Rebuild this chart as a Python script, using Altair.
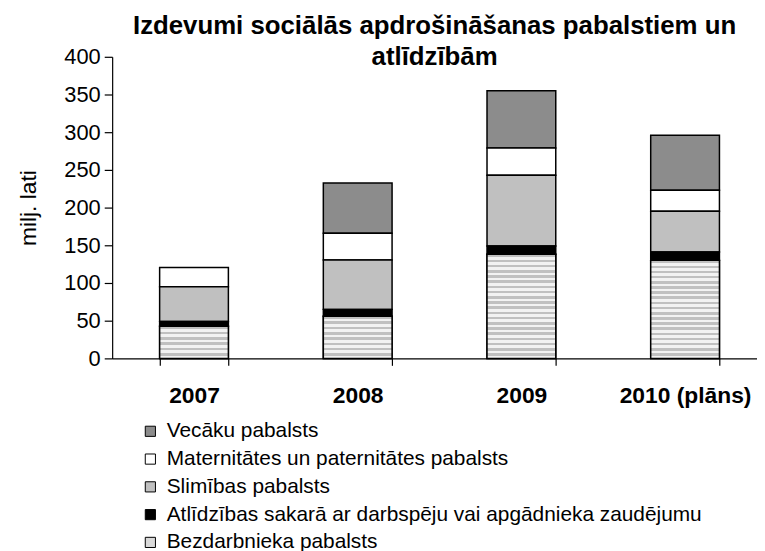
import altair as alt
import pandas as pd

years = ["2007", "2008", "2009", "2010 (plāns)"]
series = [
    "Vecāku pabalsts",
    "Maternitātes un paternitātes pabalsts",
    "Slimības pabalsts",
    "Atlīdzības sakarā ar darbspēju vai apgādnieka zaudējumu",
    "Bezdarbnieka pabalsts",
]
vecaku = [0, 66.5, 76, 73]
maternitates = [25.5, 35.5, 36, 28]
slimibas = [46, 65.5, 94, 54]
atlidzibas = [6.5, 9, 11, 11]
bezdarbnieka = [42.5, 56, 138, 130]

values = [vecaku, maternitates, slimibas, atlidzibas, bezdarbnieka]
colors = ["#8c8c8c", "#ffffff", "#c0c0c0", "#000000", "#dadada"]

rows = []
for k, (s, vals) in enumerate(zip(series, values)):
    for yr, v in zip(years, vals):
        rows.append({"year": yr, "series": s, "value": v, "order": 4 - k})
df = pd.DataFrame(rows)

FONT = "Liberation Sans"
PX_PER_UNIT = 304 / 400
STRIPE = 5.3

base = (
    alt.Chart(df)
    .transform_filter("datum.value > 0")
    .transform_stack(stack="value", groupby=["year"], as_=["y0", "y1"],
                     sort=[alt.SortField("order", "ascending")])
)

x_enc = alt.X("year:N", sort=years,
              scale=alt.Scale(range=[0, 660], paddingInner=0.58, paddingOuter=0.29),
              axis=alt.Axis(title=None, labelAngle=0, labelFont=FONT, labelFontSize=23,
                            labelFontWeight="bold", labelColor="black", labelPadding=19,
                            tickBand="extent", tickSize=7, tickColor="black",
                            domainColor="black", domainWidth=1.2, tickWidth=1.2))
y_enc = alt.Y("y0:Q", scale=alt.Scale(domain=[0, 400], nice=False),
              axis=alt.Axis(values=[0, 50, 100, 150, 200, 250, 300, 350, 400],
                            title="milj. lati", titleFont=FONT, titleFontSize=23,
                            titleFontWeight="normal", titleColor="black", titlePadding=24,
                            labelFont=FONT, labelFontSize=22, labelColor="black",
                            labelPadding=4, tickSize=8, tickColor="black",
                            domainColor="black", grid=False, domainWidth=1.2, tickWidth=1.2))
y2_enc = alt.Y2("y1:Q")

main = base.mark_bar(stroke="black", strokeWidth=1.5).encode(
    x=x_enc, y=y_enc, y2=y2_enc,
    color=alt.Color("series:N", scale=alt.Scale(domain=series, range=colors),
                    legend=alt.Legend(orient="none", legendX=28, legendY=367, title=None,
                                      symbolType="square", symbolSize=105,
                                      symbolStrokeColor="black", symbolStrokeWidth=1,
                                      labelFont=FONT, labelFontSize=21, labelColor="black",
                                      rowPadding=6, labelOffset=6, labelLimit=700)),
)

layers = [main]
for yr, v in zip(years, bezdarbnieka):
    n = max(1, round(v * PX_PER_UNIT / STRIPE))
    stops = []
    for i in range(n):
        a, b, c = i / n, (i + 0.5) / n, (i + 1) / n
        stops += [alt.GradientStop(offset=a, color="#c0c0c0"),
                  alt.GradientStop(offset=b, color="#c0c0c0"),
                  alt.GradientStop(offset=b, color="#f2f2f2"),
                  alt.GradientStop(offset=c, color="#f2f2f2")]
    grad = alt.Gradient(gradient="linear", stops=stops, x1=0, x2=0, y1=0, y2=1)
    layers.append(
        base.transform_filter(f"datum.order == 0 && datum.year == '{yr}'")
        .mark_bar(fill=grad, stroke="black", strokeWidth=1.5)
        .encode(x=x_enc, y=y_enc, y2=y2_enc)
    )

chart = (
    alt.layer(*layers)
    .properties(
        width=650, height=304,
        padding={"left": 105, "top": 47, "right": 0, "bottom": 196},
        autosize=alt.AutoSizeParams(type="none"),
        title=alt.TitleParams(text=["Izdevumi sociālās apdrošināšanas pabalstiem un", "atlīdzībām"],
                              font=FONT, fontSize=26, fontWeight="bold", color="black",
                              anchor="middle", lineHeight=31, offset=-24),
    )
    .configure_view(stroke=None)
)

chart.save("out.html", embed_options={"renderer": "svg", "actions": False})
